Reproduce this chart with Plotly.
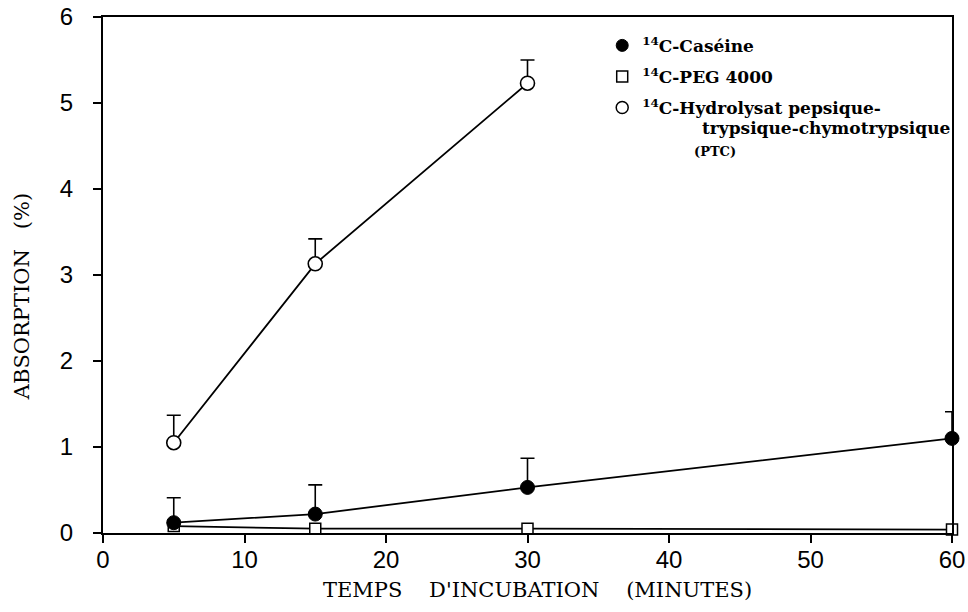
import plotly.graph_objects as go

# Incubation times (minutes)
times = [5, 15, 30, 60]
times_ptc = [5, 15, 30]

# Absorption (%) and upper standard deviations
casein = [0.12, 0.22, 0.53, 1.10]
casein_sd = [0.29, 0.34, 0.34, 0.31]
peg = [0.08, 0.05, 0.05, 0.04]
ptc = [1.05, 3.13, 5.23]
ptc_sd = [0.32, 0.29, 0.27]

x_ticks = [0, 10, 20, 30, 40, 50, 60]
y_ticks = [0, 1, 2, 3, 4, 5, 6]

NB = "\u00a0"
names = [
    "<b><sup>14</sup>C-Caséine</b>",
    "<b><sup>14</sup>C-PEG 4000</b>",
    "<b><sup>14</sup>C-Hydrolysat pepsique-</b>",
]
ptc_line2 = "<b>trypsique-chymotrypsique</b>"
ptc_line3 = "<b>(PTC)</b>"

SERIF = "DejaVu Serif"
LINE = dict(color="black", width=1.8)

fig = go.Figure()

# PEG 4000
fig.add_trace(go.Scatter(
    x=times, y=peg, mode="lines+markers", line=LINE, showlegend=False,
    marker=dict(symbol="square", size=11, color="white", line=dict(color="black", width=1.5)),
    cliponaxis=False,
))
# Caseine
fig.add_trace(go.Scatter(
    x=times, y=casein, mode="lines+markers", line=LINE, showlegend=False,
    marker=dict(symbol="circle", size=14, color="black", line=dict(color="black", width=1)),
    error_y=dict(type="data", array=casein_sd, arrayminus=[0] * len(casein_sd),
                 color="black", thickness=1.6, width=7),
    cliponaxis=False,
))
# PTC hydrolysate
fig.add_trace(go.Scatter(
    x=times_ptc, y=ptc, mode="lines+markers", line=LINE, showlegend=False,
    marker=dict(symbol="circle", size=14, color="white", line=dict(color="black", width=1.6)),
    error_y=dict(type="data", array=ptc_sd, arrayminus=[0] * len(ptc_sd),
                 color="black", thickness=1.6, width=7),
    cliponaxis=False,
))

# Legend entries (symbols only)
legend_markers = [
    dict(symbol="circle", size=12, color="black", line=dict(color="black", width=1)),
    dict(symbol="square", size=11, color="white", line=dict(color="black", width=1.5)),
    dict(symbol="circle", size=12, color="white", line=dict(color="black", width=1.5)),
]
for i, (nm, mk) in enumerate(zip(names, legend_markers)):
    fig.add_trace(go.Scatter(
        x=[None], y=[None], mode="markers", marker=mk, name=nm,
        legendgroup=f"g{i}", showlegend=True,
    ))

TICKFONT = dict(family="Liberation Sans, Arial, sans-serif", size=24, color="black")
axis_common = dict(
    showline=True, linecolor="black", linewidth=1.5, mirror=True,
    ticks="outside", ticklen=8, tickwidth=1.5, tickcolor="black",
    showgrid=False, zeroline=False, automargin=False, tickfont=TICKFONT,
)

fig.update_layout(
    width=968, height=612,
    margin=dict(l=103, r=16, t=17, b=79, autoexpand=False),
    paper_bgcolor="white", plot_bgcolor="white",
    xaxis=dict(range=[0, 60], tickvals=x_ticks, ticklabelstandoff=-4, **axis_common),
    yaxis=dict(range=[0, 6], tickvals=y_ticks, showticklabels=False, **axis_common),
    # label-only companion axis: holds the y tick labels further from the frame
    yaxis2=dict(range=[0, 6], tickvals=y_ticks, overlaying="y", side="left", anchor="x",
                showline=False, showgrid=False, zeroline=False, automargin=False,
                ticks="outside", ticklen=24, tickcolor="rgba(0,0,0,0)", tickfont=TICKFONT),
    legend=dict(
        x=0.588, y=0.979, xanchor="left", yanchor="top",
        font=dict(family=SERIF, size=17, color="black"),
        bgcolor="rgba(0,0,0,0)", valign="middle", tracegroupgap=6,
        itemwidth=30,
    ),
    annotations=[
        dict(text=ptc_line2, xref="paper", yref="paper", x=0.703, y=0.785,
             xanchor="left", yanchor="middle", showarrow=False,
             font=dict(family=SERIF, size=17, color="black")),
        dict(text=ptc_line3, xref="paper", yref="paper", x=0.694, y=0.740,
             xanchor="left", yanchor="middle", showarrow=False,
             font=dict(family=SERIF, size=13, color="black")),
        dict(text="TEMPS" + NB * 4 + "D'INCUBATION" + NB * 4 + "(MINUTES)",
             xref="paper", yref="paper", x=0.512, y=-0.110,
             xanchor="center", yanchor="middle", showarrow=False,
             font=dict(family=SERIF, size=21, color="black")),
        dict(text="ABSORPTION" + NB * 3 + "(%)",
             xref="paper", yref="paper", x=-0.0954, y=0.457, textangle=-90,
             xanchor="center", yanchor="middle", showarrow=False,
             font=dict(family=SERIF, size=21, color="black")),
    ],
)

# invisible trace to activate the label-only y axis
fig.add_trace(go.Scatter(x=[None], y=[None], yaxis="y2", showlegend=False, hoverinfo="skip"))

fig.write_html("out.html")
